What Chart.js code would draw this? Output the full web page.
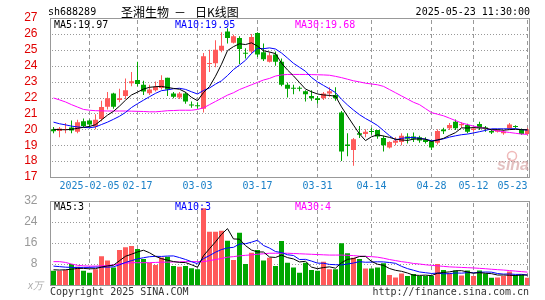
<!DOCTYPE html>
<html>
<head>
<meta charset="utf-8">
<script src="https://cdn.jsdelivr.net/npm/chart.js@4.4.1/dist/chart.umd.min.js"></script>
<style>
  body { margin: 0; background: #fff; }
  #wrap { position: relative; width: 545px; height: 300px; }
  canvas { position: absolute; left: 0; top: 0; }
</style>
</head>
<body>
<div id="wrap">
  <canvas id="klineChart" width="545" height="300"></canvas>
  <canvas id="volChart" width="545" height="300"></canvas>
</div>
<script>
// ---- data ----
const stockCode = 'sh688289';
const stockName = '圣湘生物';
const stamp = '2025-05-23 11:30:00';

const dates = ['01-20','01-21','01-22','01-23','01-24','01-27','02-05','02-06','02-07','02-10',
  '02-11','02-12','02-13','02-14','02-17','02-18','02-19','02-20','02-21','02-24',
  '02-25','02-26','02-27','02-28','03-03','03-04','03-05','03-06','03-07','03-10',
  '03-11','03-12','03-13','03-14','03-17','03-18','03-19','03-20','03-21','03-24',
  '03-25','03-26','03-27','03-28','03-31','04-01','04-02','04-03','04-07','04-08',
  '04-09','04-10','04-11','04-14','04-15','04-16','04-17','04-18','04-21','04-22',
  '04-23','04-24','04-25','04-28','04-29','04-30','05-06','05-07','05-08','05-09',
  '05-12','05-13','05-14','05-15','05-16','05-19','05-20','05-21','05-22','05-23'];
const dateTicks = ['02-05','02-17','03-03','03-17','03-31','04-14','04-28','05-12','05-23'];

const opens = [20.0,19.9,19.95,20.12,19.85,20.5,20.55,20.18,20.65,21.42,
  22.25,21.85,22.1,22.9,23.1,22.8,22.26,22.45,22.6,23.25,
  22.25,22.0,22.25,21.55,21.5,21.3,24.1,24.15,24.95,26.15,
  25.45,25.75,24.8,24.9,26.05,24.85,24.25,24.7,24.25,22.8,
  22.6,22.6,22.4,22.1,21.95,21.95,22.25,22.15,21.05,19.05,
  18.7,19.75,19.7,19.87,19.95,19.45,18.85,19.15,19.2,19.55,
  19.55,19.5,19.35,19.25,19.15,19.98,20.06,20.48,20.25,20.27,
  19.95,20.33,20.1,19.9,19.85,19.75,20.05,20.2,20.0,19.7];
const highs = [20.15,20.15,20.4,20.55,20.6,20.68,20.62,20.95,21.8,22.35,
  22.3,22.55,23.2,23.6,24.25,23.05,22.8,23.0,23.4,23.25,
  22.35,22.35,22.35,21.75,21.7,24.8,25.0,25.6,26.1,26.35,
  25.95,25.85,25.1,26.0,26.1,25.4,24.85,24.9,24.45,22.95,
  22.8,22.7,22.45,22.45,22.1,22.35,22.65,22.65,21.15,19.75,
  19.45,20.2,20.0,20.1,19.95,19.6,19.25,19.5,19.75,19.75,
  19.8,19.6,19.5,19.3,20.0,20.1,20.4,20.62,20.45,20.35,
  20.15,20.48,20.2,20.0,20.0,19.95,20.4,20.25,20.05,20.1];
const lows = [19.75,19.5,19.75,19.75,19.75,20.15,20.15,20.0,20.5,21.25,
  21.3,21.7,21.9,22.7,22.7,22.15,22.16,22.38,22.5,22.1,
  21.95,21.9,21.6,21.35,21.3,21.05,23.6,23.9,24.85,25.4,
  25.4,24.1,24.45,24.75,24.55,24.3,24.2,24.0,22.7,22.0,
  22.2,22.4,21.75,21.8,21.6,21.85,22.05,21.8,18.0,18.3,
  17.7,19.45,19.5,19.65,19.4,18.6,18.8,19.0,19.0,19.1,
  19.2,19.15,19.1,18.7,19.05,19.7,19.95,19.95,20.1,19.75,
  19.85,19.95,19.85,19.7,19.8,19.65,20.0,20.05,19.65,19.65];
const closes = [19.88,20.05,20.02,19.92,20.45,20.2,20.3,20.6,21.4,21.95,
  21.42,21.95,22.45,23.02,22.85,22.37,22.5,22.68,23.1,22.5,
  22.05,22.25,21.75,21.5,21.45,24.6,24.15,25.0,25.25,25.75,
  25.85,25.05,24.75,25.8,24.7,24.4,24.65,24.25,22.8,22.55,
  22.55,22.55,22.2,21.95,21.85,22.25,22.4,21.95,18.6,18.95,
  19.38,19.65,19.85,19.83,19.55,19.0,19.2,19.3,19.6,19.4,
  19.4,19.3,19.2,18.85,19.9,19.88,20.27,20.06,20.33,19.85,
  20.05,20.1,20.05,19.8,19.92,19.85,20.3,20.15,19.7,20.0];

const ma5 = [20.0,19.98,19.97,20.0,20.06,20.13,20.18,20.29,20.59,20.89,
  21.13,21.46,21.83,22.16,22.34,22.53,22.64,22.68,22.7,22.63,
  22.57,22.52,22.33,22.01,21.8,22.31,22.69,23.34,24.09,24.95,
  25.2,25.38,25.33,25.44,25.23,24.94,24.86,24.76,24.16,23.73,
  23.36,22.94,22.53,22.36,22.22,22.16,22.13,22.08,21.41,20.83,
  20.26,19.71,19.29,19.53,19.65,19.58,19.49,19.38,19.33,19.3,
  19.38,19.4,19.38,19.23,19.33,19.43,19.62,19.79,20.09,20.08,
  20.11,20.08,20.08,19.97,19.98,19.94,19.98,20.0,19.98,19.97];
const ma10 = [20.45,20.35,20.28,20.2,20.15,20.12,20.1,20.15,20.3,20.45,
  20.63,20.82,21.06,21.37,21.61,21.83,22.05,22.26,22.43,22.48,
  22.55,22.58,22.51,22.36,22.22,22.44,22.6,22.84,23.05,23.38,
  23.76,24.04,24.34,24.77,25.09,25.07,25.12,25.05,24.8,24.48,
  24.15,23.9,23.65,23.26,22.98,22.76,22.54,22.31,21.89,21.53,
  21.21,20.92,20.68,20.47,20.24,19.92,19.6,19.33,19.43,19.48,
  19.48,19.44,19.38,19.28,19.32,19.4,19.51,19.59,19.66,19.7,
  19.77,19.85,19.93,20.03,20.03,20.03,20.03,20.04,19.98,19.95];
const ma30 = [21.97,21.85,21.72,21.55,21.4,21.25,21.2,21.17,21.16,21.15,
  21.15,21.15,21.15,21.14,21.13,21.12,21.1,21.1,21.13,21.17,
  21.18,21.2,21.2,21.2,21.25,21.35,21.55,21.75,21.95,22.15,
  22.3,22.5,22.65,22.8,22.95,23.1,23.2,23.35,23.42,23.45,
  23.45,23.45,23.45,23.44,23.43,23.42,23.4,23.33,23.25,23.15,
  23.05,22.98,22.9,22.85,22.8,22.7,22.5,22.3,22.1,21.9,
  21.7,21.55,21.3,21.05,20.95,20.85,20.7,20.55,20.4,20.3,
  20.2,20.12,20.05,19.97,19.9,19.85,19.8,19.75,19.7,19.68];

// volume, 万
const volumes = [5.45,5.45,5.7,8.0,7.0,5.45,4.7,6.0,11.0,9.3,
  6.7,13.3,14.4,14.9,13.7,9.9,8.5,7.6,10.5,10.8,
  7.2,7.0,7.2,6.4,6.0,29.2,20.3,20.3,20.7,16.9,
  9.5,19.9,8.0,12.3,13.3,9.3,10.4,7.2,16.8,8.5,
  6.7,4.7,8.5,5.7,5.45,8.9,6.0,6.0,15.9,12.1,
  10.4,9.9,6.3,6.3,6.7,8.3,3.8,2.9,4.4,3.4,
  4.2,3.4,3.4,3.4,8.0,5.7,4.5,5.5,3.6,5.5,
  3.4,5.5,4.4,2.8,2.9,3.4,5.1,3.8,3.8,2.8];
const vma5 = [5.8,5.7,5.8,6.0,6.32,6.32,6.17,6.23,6.83,7.29,
  7.54,9.26,10.94,11.72,12.6,13.24,12.28,10.92,10.04,9.46,
  8.92,8.62,8.54,7.72,6.76,11.16,13.82,16.44,19.3,21.48,
  17.54,17.46,15.0,13.32,12.6,12.56,10.66,10.5,11.4,10.44,
  9.92,8.78,9.04,6.82,6.21,6.65,6.91,6.41,8.45,9.78,
  10.08,10.86,10.92,9.0,7.92,7.5,6.28,5.6,5.22,4.56,
  3.74,3.66,3.76,3.56,4.48,4.78,5.0,5.42,5.46,4.96,
  4.5,4.7,4.48,4.32,3.8,3.8,3.72,3.6,3.8,3.78];
const vma10 = [7.2,7.0,6.8,6.7,6.7,6.7,6.7,6.8,6.8,6.8,
  6.93,7.72,8.59,9.28,9.95,10.39,10.77,10.93,10.88,11.03,
  11.08,10.45,9.73,8.88,8.11,10.04,11.22,12.49,13.51,14.12,
  14.35,15.64,15.72,16.31,17.04,15.05,14.06,12.75,12.36,11.52,
  11.24,9.72,9.77,9.11,8.33,8.29,7.85,7.73,7.64,8.0,
  8.37,8.89,8.67,8.73,8.85,8.79,8.57,8.26,7.11,6.24,
  5.62,4.97,4.68,4.39,4.52,4.26,4.33,4.59,4.51,4.72,
  4.64,4.85,4.95,4.89,4.38,4.15,4.21,4.04,4.06,3.79];
const vma30 = [8.9,8.9,8.6,8.0,7.5,7.3,7.2,7.2,7.3,7.4,
  7.7,8.0,8.3,8.5,8.5,8.5,8.5,8.6,8.7,8.7,
  8.8,8.8,8.9,8.9,8.9,8.9,9.3,9.7,10.1,10.6,
  10.8,11.1,11.3,11.5,11.7,11.9,12.1,12.1,12.1,12.1,
  12.0,11.9,11.8,11.7,11.6,11.5,11.4,11.4,11.4,11.3,
  11.2,11.0,10.9,10.8,10.6,10.2,9.7,9.3,8.9,8.6,
  8.2,8.0,7.7,7.5,7.3,7.1,6.9,6.8,6.7,6.6,
  6.5,6.35,6.2,6.0,5.85,5.7,5.5,5.3,5.1,4.9];

// ---- styles ----
const MONO = '"DejaVu Sans Mono", "Liberation Mono", monospace';
const SANS = '"Liberation Sans", Arial, sans-serif';
const CJK = '"Noto Sans CJK SC", sans-serif';
const RED = '#ff5a5a';
const GREEN = '#00a600';
const GRID = '#999999';

const candleColors = closes.map((c, i) => c >= opens[i] ? RED : GREEN);
const wicks = lows.map((l, i) => [l, highs[i]]);
const bodies = opens.map((o, i) => [o, closes[i]]);

function xScale() {
  return {
    offset: true,
    afterFit: s => { s.height = 0; },
    ticks: { display: false },
    grid: { display: false },
    border: { display: false }
  };
}

function lineSet(data, color, order) {
  return { type: 'line', data: data, borderColor: color, borderWidth: 1,
    pointRadius: 0, tension: 0, fill: false, order: order };
}

// dotted value grid, dashed date grid (pixel dots), and the frame
const gridPlugin = {
  id: 'sinaGrid',
  beforeDatasetsDraw(chart) {
    const a = chart.chartArea, ctx = chart.ctx;
    const x = chart.scales.x, y = chart.scales.y;
    const left = Math.floor(a.left), right = Math.floor(a.right);
    const top = Math.floor(a.top), bottom = Math.floor(a.bottom);
    ctx.save();
    ctx.fillStyle = GRID;
    y.ticks.forEach(t => {
      if (t.value <= y.min || t.value >= y.max) return;
      const py = Math.round(y.getPixelForValue(t.value));
      for (let px = left + 2; px < right - 1; px += 3) ctx.fillRect(px, py, 1, 1);
    });
    dateTicks.forEach(d => {
      const px = Math.floor(x.getPixelForValue(dates.indexOf(d)));
      for (let py = top + 2; py < bottom; py += 7) {
        ctx.fillRect(px, py, 1, Math.min(4, bottom - py));
      }
    });
    ctx.restore();
  },
  afterDraw(chart) {
    const a = chart.chartArea, ctx = chart.ctx;
    ctx.save();
    ctx.strokeStyle = '#999';
    ctx.lineWidth = 1;
    ctx.strokeRect(Math.floor(a.left) + 0.5, Math.floor(a.top) + 0.5,
      Math.round(a.right - a.left) - 1, Math.round(a.bottom - a.top));
    ctx.restore();
  }
};

// texts of the main panel: header, MA readouts, date labels, watermark
const klineText = {
  id: 'klineText',
  beforeDatasetsDraw(chart) {
    const ctx = chart.ctx;
    ctx.save();
    ctx.font = 'italic bold 16px ' + SANS;
    ctx.fillStyle = 'rgba(215,165,165,0.7)';
    ctx.fillText('sina', 497, 170);
    ctx.beginPath();
    ctx.arc(512, 156, 4.5, 0, Math.PI * 2);
    ctx.strokeStyle = 'rgba(230,140,140,0.6)';
    ctx.lineWidth = 1.5;
    ctx.stroke();
    ctx.restore();
  },
  afterDraw(chart) {
    const ctx = chart.ctx, a = chart.chartArea, x = chart.scales.x;
    ctx.save();
    ctx.textBaseline = 'middle';
    ctx.font = '10px ' + MONO;
    ctx.fillStyle = '#000';
    ctx.fillText(stockCode, 48, 12);
    ctx.textAlign = 'right';
    ctx.fillText(stamp, 530, 12);
    ctx.textAlign = 'left';
    ctx.font = '12px ' + CJK;
    ctx.fillText(stockName, 121, 12);
    ctx.fillText('－', 174, 12);
    ctx.fillText('日K线图', 195, 12);

    ctx.font = '10px ' + MONO;
    ctx.fillStyle = '#000';
    ctx.fillText('MA5:' + ma5[ma5.length - 1].toFixed(2), 54, 25);
    ctx.fillStyle = '#0000ff';
    ctx.fillText('MA10:' + ma10[ma10.length - 1].toFixed(2), 175, 25);
    ctx.fillStyle = '#ff00ff';
    ctx.fillText('MA30:' + ma30[ma30.length - 1].toFixed(2), 295, 25);

    ctx.fillStyle = '#1a80c8';
    dateTicks.forEach((d, k) => {
      const px = x.getPixelForValue(dates.indexOf(d));
      const txt = k === 0 ? '2025-' + d : d;
      const w = ctx.measureText(txt).width;
      ctx.textAlign = (px + w / 2 > a.right) ? 'right' : 'center';
      ctx.fillText(txt, px, 186);
    });
    ctx.restore();
  }
};

const volText = {
  id: 'volText',
  afterDraw(chart) {
    const ctx = chart.ctx;
    ctx.save();
    ctx.textBaseline = 'middle';
    ctx.font = '10px ' + MONO;
    ctx.fillStyle = '#000';
    ctx.fillText('MA5:' + Math.floor(vma5[vma5.length - 1]), 54, 207);
    ctx.fillStyle = '#0000ff';
    ctx.fillText('MA10:' + Math.floor(vma10[vma10.length - 1]), 175, 207);
    ctx.fillStyle = '#ff00ff';
    ctx.fillText('MA30:' + Math.floor(vma30[vma30.length - 1]), 295, 207);

    ctx.fillStyle = '#333';
    ctx.fillText('Copyright 2025 SINA.COM', 50, 292);
    ctx.textAlign = 'right';
    ctx.fillText('http://finance.sina.com.cn', 529, 292);
    ctx.textAlign = 'left';
    ctx.fillStyle = '#aaa';
    ctx.font = 'italic 10px ' + SANS;
    ctx.fillText('x万', 28, 286);
    ctx.restore();
  }
};

// ---- price chart ----
const klineChart = new Chart(document.getElementById('klineChart'), {
  type: 'bar',
  data: {
    labels: dates,
    datasets: [
      lineSet(ma5, '#000000', 0),
      lineSet(ma10, '#0000ff', 1),
      lineSet(ma30, '#ff00ff', 2),
      { type: 'bar', data: bodies, backgroundColor: candleColors, barThickness: 5,
        grouped: false, minBarLength: 1, inflateAmount: 0, borderWidth: 0, order: 3 },
      { type: 'bar', data: wicks, backgroundColor: candleColors, barThickness: 1,
        grouped: false, inflateAmount: 0, borderWidth: 0, order: 4 }
    ]
  },
  options: {
    responsive: false,
    animation: false,
    devicePixelRatio: 1,
    layout: { padding: { top: 18, bottom: 123, left: 0, right: 14.5 } },
    plugins: { legend: { display: false }, tooltip: { enabled: false } },
    scales: {
      x: xScale(),
      y: {
        min: 17, max: 27,
        afterFit: s => { s.width = 50.5; },
        ticks: { stepSize: 1, autoSkip: false, color: '#e00000',
          font: { family: SANS, size: 12 }, padding: 5 },
        grid: { display: false },
        border: { display: false }
      }
    }
  },
  plugins: [gridPlugin, klineText]
});

// ---- volume chart ----
const volChart = new Chart(document.getElementById('volChart'), {
  type: 'bar',
  data: {
    labels: dates,
    datasets: [
      lineSet(vma5, '#000000', 0),
      lineSet(vma10, '#0000ff', 1),
      lineSet(vma30, '#ff00ff', 2),
      { type: 'bar', data: volumes, backgroundColor: candleColors, barThickness: 5,
        inflateAmount: 0, borderWidth: 0, order: 3 }
    ]
  },
  options: {
    responsive: false,
    animation: false,
    devicePixelRatio: 1,
    layout: { padding: { top: 201, bottom: 15, left: 0, right: 14.5 } },
    plugins: { legend: { display: false }, tooltip: { enabled: false } },
    scales: {
      x: xScale(),
      y: {
        min: 0, max: 32,
        afterFit: s => { s.width = 50.5; },
        ticks: { stepSize: 8, autoSkip: false, color: '#999',
          font: { family: SANS, size: 12 }, padding: 5,
          callback: v => v === 0 ? '' : v },
        grid: { display: false },
        border: { display: false }
      }
    }
  },
  plugins: [gridPlugin, volText]
});
</script>
</body>
</html>
